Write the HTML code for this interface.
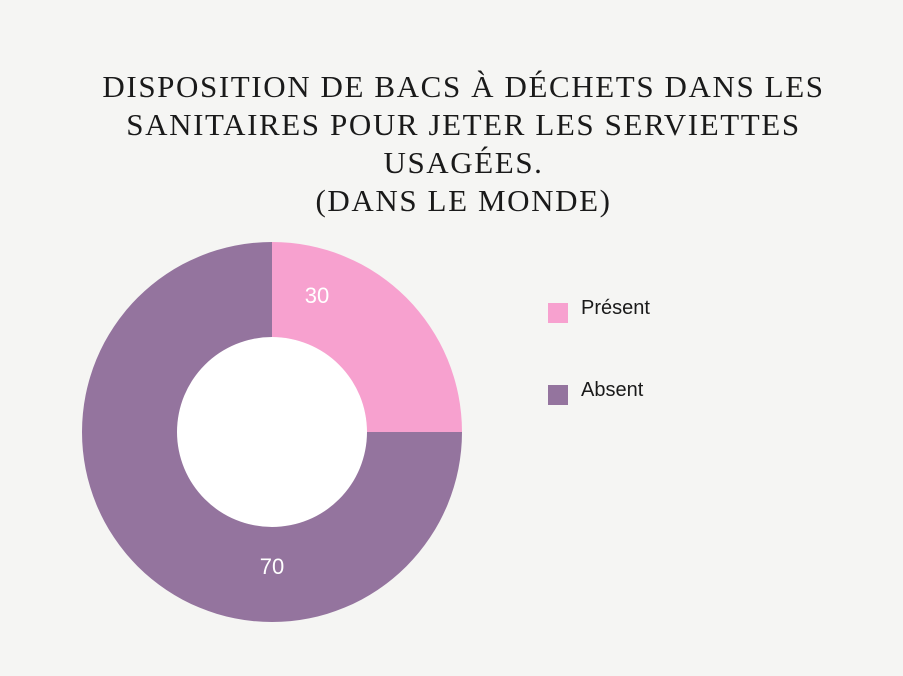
<!DOCTYPE html>
<html><head><meta charset="utf-8"><style>
html,body{margin:0;padding:0;background:#f5f5f3;}
#c{position:relative;width:903px;height:676px;overflow:hidden;background:#f5f5f3;}
.t{position:absolute;left:0;width:927px;text-align:center;font-family:"Liberation Serif",serif;font-size:31px;letter-spacing:1.6px;color:#1a1a1a;line-height:38px;}
.lg{position:absolute;font-family:"Liberation Sans",sans-serif;font-size:20px;color:#1a1a1a;}
.sq{position:absolute;width:20px;height:20px;}
</style></head><body><div id="c">
<div class="t" style="top:68px;">DISPOSITION DE BACS À DÉCHETS DANS LES<br>SANITAIRES POUR JETER LES SERVIETTES<br>USAGÉES.<br>(DANS LE MONDE)</div>
<svg width="903" height="676" style="position:absolute;left:0;top:0">
<circle cx="272" cy="432" r="95" fill="#ffffff"/>
<path d="M272,242 A190,190 0 0 1 462,432 L367,432 A95,95 0 0 0 272,337 Z" fill="#f7a1cf"/>
<path d="M462,432 A190,190 0 1 1 272,242 L272,337 A95,95 0 1 0 367,432 Z" fill="#94749e"/>
<text x="317" y="303" font-family="Liberation Sans,sans-serif" font-size="22" fill="#fff" text-anchor="middle">30</text>
<text x="272" y="574" font-family="Liberation Sans,sans-serif" font-size="22" fill="#fff" text-anchor="middle">70</text>
</svg>
<div class="sq" style="left:548px;top:303px;background:#f7a1cf"></div>
<div class="lg" style="left:581px;top:297px;">Présent</div>
<div class="sq" style="left:548px;top:385px;background:#94749e"></div>
<div class="lg" style="left:581px;top:379px;">Absent</div>
</div></body></html>
